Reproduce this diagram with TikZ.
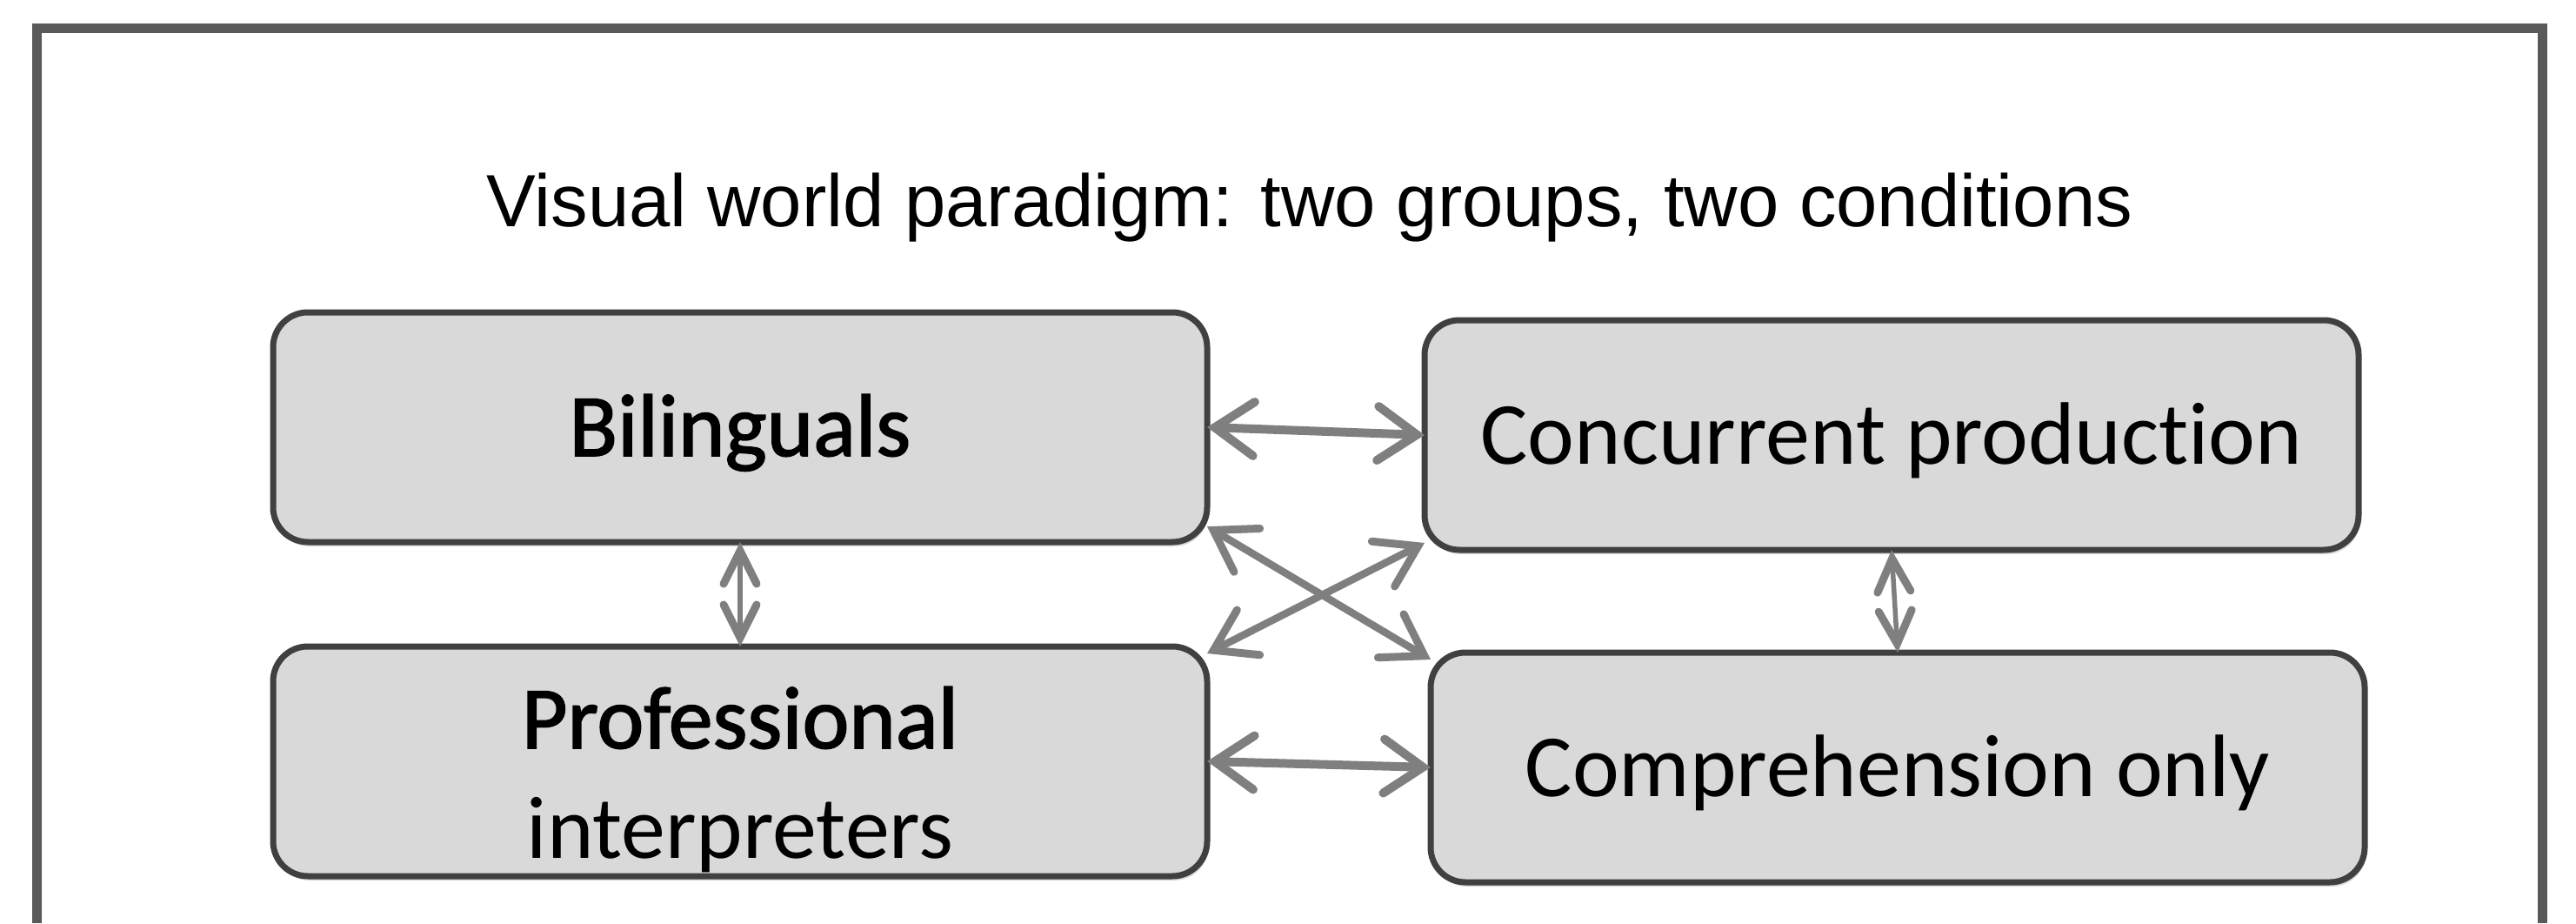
\documentclass[tikz,border=0pt]{standalone}
\usepackage{fontspec}
\setmainfont{Carlito}[Ligatures=NoCommon]
\newfontfamily\heavyfont{Carlito}[Ligatures=NoCommon,FakeBold=1.6]
\newfontfamily\titlefont{Liberation Sans}
\usetikzlibrary{positioning,arrows.meta,shadows}

\definecolor{framegray}{HTML}{595959}
\definecolor{boxfill}{HTML}{D9D9D9}
\definecolor{boxline}{HTML}{404040}
\definecolor{arrowgray}{HTML}{7F7F7F}

\begin{document}
\begin{tikzpicture}[
        groupbox/.style = {rectangle,rounded corners=0.4cm,draw=boxline,line width=0.07cm,
            fill=boxfill,minimum width=10.74cm,minimum height=2.64cm,inner sep=0pt,outer sep=0pt,
            align=center,font=\fontsize{29}{36}\selectfont,
            drop shadow={shadow xshift=0.02cm,shadow yshift=-0.05cm,opacity=0.3}},
        oneline/.style = {text height=0.92cm,text depth=0.26cm},
        biarrow/.style = {draw=arrowgray,line width=0.1cm,line cap=round,
            >={Straight Barb[length=0.45cm,width=0.62cm,line cap=round]},<->},
        crossarrow/.style = {draw=arrowgray,line width=0.085cm,line cap=round,
            >={Straight Barb[length=0.45cm,width=0.58cm,line width=0.09cm,line cap=round]},<->},
        vertarrow/.style = {draw=arrowgray,line width=0.055cm,
            >={Straight Barb[length=0.38cm,width=0.38cm,line width=0.09cm,line cap=round]},<->},
        ]
        \useasboundingbox (0,0) rectangle (29.62,10.61);
        % outer frame, open at the bottom
        \draw[framegray,line width=0.11cm] (0.43,0) -- (0.43,10.29) -- (29.23,10.29) -- (29.23,0);
        \node[anchor=base,font=\titlefont\fontsize{24.2}{29}\selectfont] (title) at (15.06,8.01)
            {Visual world paradigm: two groups, two conditions};

        \node[groupbox,oneline] (bil) at (8.51,5.70) {\heavyfont Bilinguals};
        \node[groupbox] (prof) [below=1.20cm of bil]
            {\rule{0pt}{1.13cm}\heavyfont Professional\\interpreters};
        \node[groupbox,oneline,yshift=-0.09cm] (conc) [right=2.50cm of bil] {Concurrent production};
        \node[groupbox,oneline,xshift=0.07cm] (comp) [below=1.18cm of conc] {Comprehension only};

        \draw[biarrow] (bil.east) -- (conc.west);
        \draw[biarrow] (prof.east) -- (comp.west);
        \draw[crossarrow] (bil.-12) -- (comp.167);
        \draw[crossarrow] (prof.13) -- (conc.193);
        \draw[vertarrow] (bil.south) -- (prof.north);
        \draw[vertarrow] (conc.south) -- (comp.north);
    \end{tikzpicture}
\end{document}
